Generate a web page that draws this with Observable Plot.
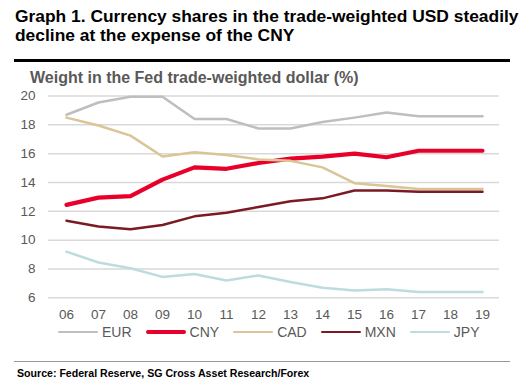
<!DOCTYPE html>
<html><head><meta charset="utf-8">
<script src="https://cdn.jsdelivr.net/npm/d3@7"></script>
<script src="https://cdn.jsdelivr.net/npm/@observablehq/plot@0.6"></script>
<style>
body{margin:0;width:525px;height:390px;position:relative;background:#fff;font-family:"Liberation Sans",Arial,sans-serif;overflow:hidden}
#title{position:absolute;left:15px;top:7px;font-size:17.4px;font-weight:bold;line-height:18.5px;color:#000;white-space:nowrap}
#rule1{position:absolute;left:14px;top:59px;width:496px;height:3px;background:#000}
#sub{position:absolute;left:30px;top:69px;font-size:16px;font-weight:bold;color:#595959;white-space:nowrap;transform-origin:left top}
#chart{position:absolute;left:0;top:80px}
#legend{position:absolute;top:323px;left:58px;display:flex;align-items:center;font-size:14px;color:#595959;height:18px}
#legend .item{display:flex;align-items:center;margin-right:14px}
#legend .sw{width:40px;margin-right:4px;border-radius:2px}
#rule2{position:absolute;left:14px;top:361px;width:496px;height:1px;background:#999}
#source{position:absolute;left:17px;top:367px;font-size:10.6px;font-weight:bold;color:#000;white-space:nowrap}
</style>
</head><body>
<div id="title">Graph 1. Currency shares in the trade-weighted USD steadily<br>decline at the expense of the CNY</div>
<div id="rule1"></div>
<div id="sub">Weight in the Fed trade-weighted dollar (%)</div>
<div id="chart"></div>
<div id="legend"></div>
<div id="rule2"></div>
<div id="source">Source: Federal Reserve, SG Cross Asset Research/Forex</div>
<script>
const years = ["06","07","08","09","10","11","12","13","14","15","16","17","18","19"];
const eur = [18.7,19.55,19.95,19.95,18.4,18.4,17.75,17.75,18.2,18.5,18.85,18.6,18.6,18.6];
const cny = [12.45,12.95,13.05,14.2,15.05,14.95,15.35,15.65,15.8,16.0,15.75,16.2,16.2,16.2];
const cad = [18.5,17.95,17.25,15.8,16.1,15.9,15.6,15.5,15.05,13.95,13.75,13.55,13.55,13.55];
const mxn = [11.35,10.95,10.75,11.05,11.65,11.9,12.3,12.7,12.9,13.45,13.45,13.35,13.35,13.35];
const jpy = [9.2,8.45,8.05,7.45,7.65,7.2,7.55,7.1,6.7,6.5,6.6,6.4,6.4,6.4];
const yTicks = [6,8,10,12,14,16,18,20];

const seriesNames = ["EUR","CNY","CAD","MXN","JPY"];
const seriesValues = [eur,cny,cad,mxn,jpy];
const seriesColors = ["#C0BDBD","#E8002A","#D9C596","#7A1A22","#BCDCDF"];
const seriesWidths = [2.5,4.2,2.5,2.5,2.5];

const rows = seriesNames.map((name,i)=>years.map((y,j)=>({series:name,year:y,value:seriesValues[i][j]})));

const chart = Plot.plot({
  width:525, height:260,
  marginTop:15.5, marginBottom:42.7, marginLeft:48, marginRight:26,
  style:{fontFamily:"'Liberation Sans',Arial,sans-serif",fontSize:"13.5px",color:"#595959",background:"transparent"},
  x:{type:"point",domain:years,padding:0.5,label:null},
  y:{domain:[6,20],label:null},
  marks:[
    Plot.ruleY(yTicks,{stroke:"#D9D9D9",strokeWidth:1.5}),
    Plot.axisY({ticks:yTicks,tickSize:0,tickPadding:13,label:null,fill:"#595959"}),
    Plot.axisX({tickSize:0,tickPadding:12,label:null,fill:"#595959"}),
    ...rows.map((r,i)=>Plot.line(r,{x:"year",y:"value",stroke:seriesColors[i],strokeWidth:seriesWidths[i],strokeLinejoin:"round",strokeLinecap:"round"}))
  ]
});
document.getElementById("chart").appendChild(chart);

const legend = document.getElementById("legend");
seriesNames.forEach((n,i)=>{
  const it=document.createElement("div");it.className="item";
  const sw=document.createElement("div");sw.className="sw";
  sw.style.height=seriesWidths[i]+"px";sw.style.background=seriesColors[i];
  const tx=document.createElement("span");tx.textContent=n;
  it.appendChild(sw);it.appendChild(tx);legend.appendChild(it);
});
</script>
</body></html>
